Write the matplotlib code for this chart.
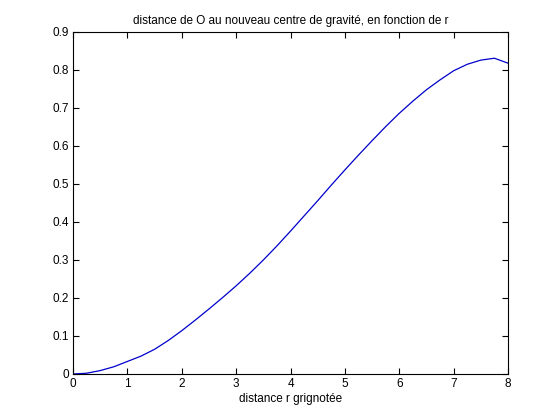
import matplotlib
matplotlib.use("Agg")
import matplotlib.pyplot as plt

r = [0, 0.25, 0.5, 0.75, 1.0, 1.25, 1.5, 1.75, 2.0, 2.25, 2.5, 2.75, 3.0, 3.25,
     3.5, 3.75, 4.0, 4.25, 4.5, 4.75, 5.0, 5.25, 5.5, 5.75, 6.0, 6.25, 6.5,
     6.75, 7.0, 7.25, 7.5, 7.75, 8.0]
d = [0, 0.002, 0.009, 0.019, 0.033, 0.047, 0.065, 0.088, 0.114, 0.142, 0.171,
     0.201, 0.232, 0.265, 0.300, 0.337, 0.376, 0.416, 0.456, 0.497, 0.537,
     0.576, 0.614, 0.651, 0.686, 0.718, 0.748, 0.774, 0.798, 0.815, 0.826,
     0.831, 0.818]
xticks = [0, 1, 2, 3, 4, 5, 6, 7, 8]
yticks = [0, 0.1, 0.2, 0.3, 0.4, 0.5, 0.6, 0.7, 0.8, 0.9]
ytick_labels = ["0", "0.1", "0.2", "0.3", "0.4", "0.5", "0.6", "0.7", "0.8", "0.9"]

plt.rcParams['font.family'] = ['Liberation Sans', 'DejaVu Sans']
fig = plt.figure(figsize=(5.6, 4.2), dpi=100, facecolor='white')
ax = fig.add_axes([73/560, 46/420, 435/560, 342/420])
ax.plot(r, d, color='#0000cc', linewidth=0.9)
ax.set_xlim(0, 8)
ax.set_ylim(0, 0.9)
ax.set_xticks(xticks)
ax.set_xticklabels([str(x) for x in xticks])
ax.set_yticks(yticks)
ax.set_yticklabels(ytick_labels)
ax.tick_params(direction='in', length=4, width=0.8, labelsize=8.5,
               top=True, right=True, pad=3)
for s in ax.spines.values():
    s.set_linewidth(0.8)
ax.set_title("distance de O au nouveau centre de gravité, en fonction de r",
             fontsize=8.5, pad=6)
ax.set_xlabel("distance r grignotée", fontsize=8.5, labelpad=2)
fig.savefig("out.png", dpi=100, facecolor='white')
